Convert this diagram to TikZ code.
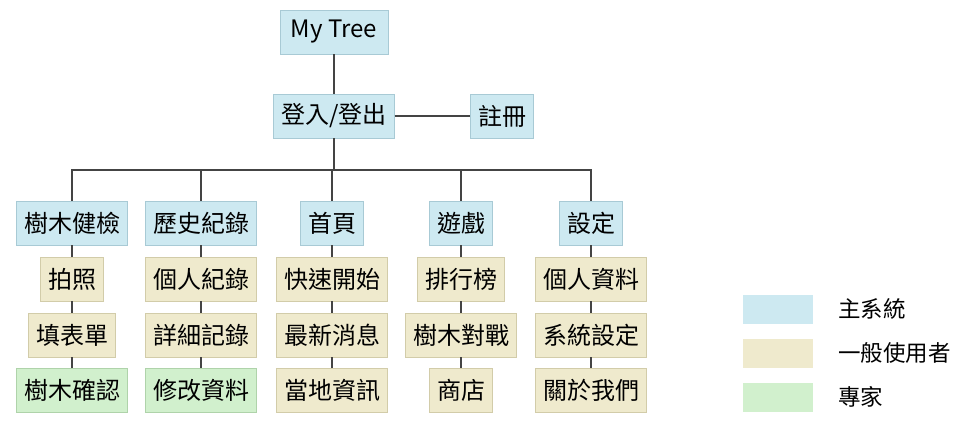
\documentclass[tikz,border=0pt]{standalone}
\usepackage{fontspec}
\newfontfamily\cjk{Noto Sans CJK TC}
\definecolor{sysfill}{HTML}{CDE9F1}
\definecolor{sysline}{HTML}{A8CAD5}
\definecolor{usrfill}{HTML}{EFEACD}
\definecolor{usrline}{HTML}{D2CCA9}
\definecolor{expfill}{HTML}{D1F0CD}
\definecolor{expline}{HTML}{AFD3AA}
\definecolor{conn}{HTML}{444444}
\tikzset{
  box/.style={font=\cjk\fontsize{24}{28}\selectfont, inner xsep=7.5pt, inner ysep=0pt,
    minimum height=44pt, line width=0.8pt, anchor=center},
  sysbox/.style={box, fill=sysfill, draw=sysline},
  usrbox/.style={box, fill=usrfill, draw=usrline},
  expbox/.style={box, fill=expfill, draw=expline},
  link/.style={draw=conn, line width=1.4pt},
  swatch/.style={minimum width=70pt, minimum height=29pt, inner sep=0pt},
  legtext/.style={font=\cjk\fontsize{22.5}{26}\selectfont, anchor=west, inner sep=0pt}
}
\begin{document}
\begin{tikzpicture}[x=1pt,y=-1pt]
\useasboundingbox[fill=white] (0,0) rectangle (964,432);
\node[sysbox, minimum width=108pt] (tree) at (334,32) {My Tree};
\node[sysbox] (login) at (334,116) {登入/登出};
\node[sysbox] (reg) at (502,116) {註冊};
\coordinate (bus) at (0,170);

\node[sysbox] (c1) at (72,223) {樹木健檢};
\node[sysbox] (c2) at (201,223) {歷史紀錄};
\node[sysbox] (c3) at (332,223) {首頁};
\node[sysbox] (c4) at (461,223) {遊戲};
\node[sysbox] (c5) at (591,223) {設定};

\node[usrbox] (a2) at (72,279) {拍照};
\node[usrbox] (a3) at (72,335) {填表單};
\node[expbox] (a4) at (72,390) {樹木確認};

\node[usrbox] (b2) at (201,279) {個人紀錄};
\node[usrbox] (b3) at (201,335) {詳細記錄};
\node[expbox] (b4) at (201,390) {修改資料};

\node[usrbox] (d2) at (332,279) {快速開始};
\node[usrbox] (d3) at (332,335) {最新消息};
\node[usrbox] (d4) at (332,390) {當地資訊};

\node[usrbox] (e2) at (461,279) {排行榜};
\node[usrbox] (e3) at (461,335) {樹木對戰};
\node[usrbox] (e4) at (461,390) {商店};

\node[usrbox] (f2) at (591,279) {個人資料};
\node[usrbox] (f3) at (591,335) {系統設定};
\node[usrbox] (f4) at (591,390) {關於我們};

\draw[link] (tree) -- (login);
\draw[link] (login) -- (reg);
\draw[link] (login.south) -- (login.south |- bus);
\draw[link] (c1.north) -- (c1.north |- bus) -- (c5.north |- bus) -- (c5.north);
\draw[link] (c2.north) -- (c2.north |- bus);
\draw[link] (c3.north) -- (c3.north |- bus);
\draw[link] (c4.north) -- (c4.north |- bus);
\foreach \k in {a,b,d,e,f}{
  \draw[link] (\k2) -- (\k3);
  \draw[link] (\k3) -- (\k4);
}
\draw[link] (c1) -- (a2);
\draw[link] (c2) -- (b2);
\draw[link] (c3) -- (d2);
\draw[link] (c4) -- (e2);
\draw[link] (c5) -- (f2);

\node[swatch, fill=sysfill] (l1) at (778,309) {};
\node[swatch, fill=usrfill] (l2) at (778,353) {};
\node[swatch, fill=expfill] (l3) at (778,397) {};
\node[legtext] (t1) at (838,309) {主系統};
\node[legtext] (t2) at (838,353) {一般使用者};
\node[legtext] (t3) at (838,397) {專家};
\end{tikzpicture}
\end{document}
